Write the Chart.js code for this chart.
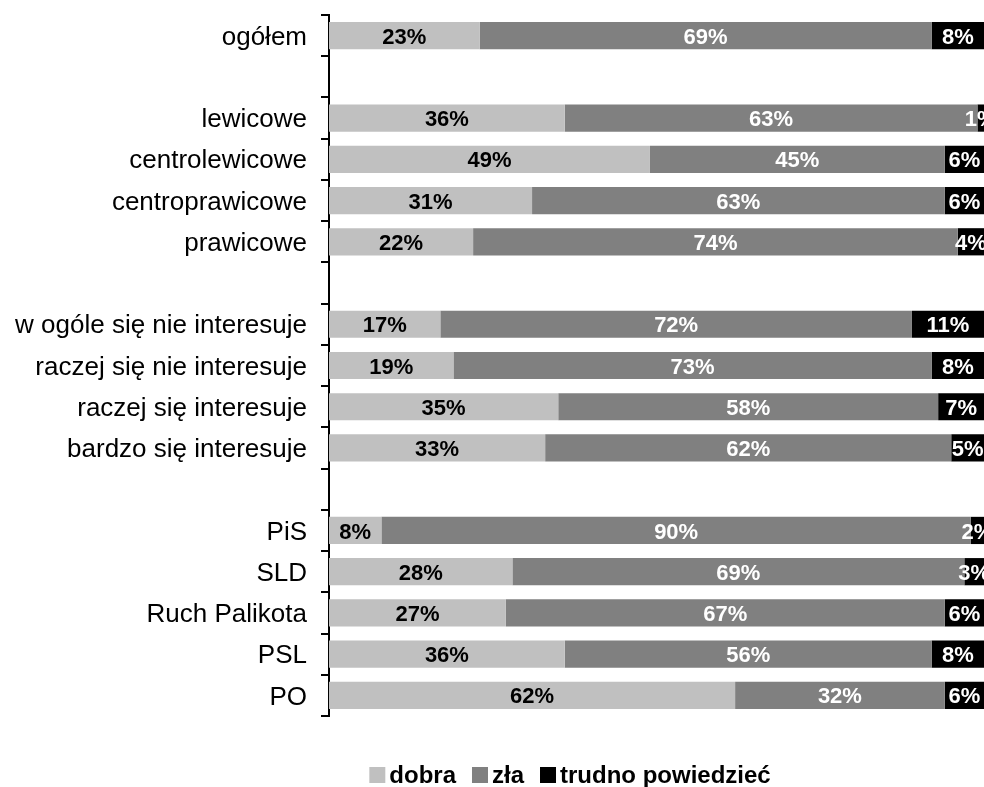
<!DOCTYPE html>
<html><head><meta charset="utf-8">
<script src="https://cdn.jsdelivr.net/npm/chart.js@4"></script>
<style>html,body{margin:0;padding:0;background:#fff}#wrap{width:984px;height:787px}</style>
</head><body><div id="wrap"><canvas id="c" width="984" height="787"></canvas></div>
<script>
const categories = ["ogółem","","lewicowe","centrolewicowe","centroprawicowe","prawicowe","","w ogóle się nie interesuje","raczej się nie interesuje","raczej się interesuje","bardzo się interesuje","","PiS","SLD","Ruch Palikota","PSL","PO"];
const dobra  = [23,null,36,49,31,22,null,17,19,35,33,null,8,28,27,36,62];
const zla    = [69,null,63,45,63,74,null,72,73,58,62,null,90,69,67,56,32];
const trudno = [8,null,1,6,6,4,null,11,8,7,5,null,2,3,6,8,6];
const seriesNames = ["dobra","zła","trudno powiedzieć"];
const seriesColors = ["#C0C0C0","#808080","#000000"];

const FONT = '"Liberation Sans", Arial, sans-serif';

const labelPlugin = {
  id:'barLabels',
  afterDatasetsDraw(chart){
    const ctx = chart.ctx;
    ctx.save();
    ctx.font = 'bold 22px ' + FONT;
    ctx.textAlign = 'center';
    ctx.textBaseline = 'middle';
    chart.data.datasets.forEach((ds, di) => {
      const meta = chart.getDatasetMeta(di);
      meta.data.forEach((el, i) => {
        const v = ds.data[i];
        if (v === null || v === undefined) return;
        const cx = (el.x + el.base) / 2;
        ctx.fillStyle = di === 0 ? '#000' : '#fff';
        ctx.fillText(v + '%', cx, el.y + 2);
      });
    });
    ctx.restore();
  }
};

const legendPlugin = {
  id:'customLegend',
  afterDraw(chart){
    const ctx = chart.ctx;
    ctx.save();
    ctx.font = 'bold 24px ' + FONT;
    ctx.textBaseline = 'middle';
    ctx.textAlign = 'left';
    const box = 16, gapBT = 4, gapItem = 16, y = 775;
    const items = chart.data.datasets.map(d => ({t:d.label, c:d.backgroundColor, w:ctx.measureText(d.label).width}));
    let total = items.reduce((s,it)=>s+box+gapBT+it.w,0) + gapItem*(items.length-1);
    let x = 570 - total/2;
    items.forEach(it => {
      ctx.fillStyle = it.c;
      ctx.fillRect(x, y - box/2, box, box);
      x += box + gapBT;
      ctx.fillStyle = '#000';
      ctx.fillText(it.t, x, y + 1);
      x += it.w + gapItem;
    });
    ctx.restore();
  }
};

new Chart(document.getElementById('c'), {
  type:'bar',
  data:{
    labels:categories,
    datasets:[
      {label:seriesNames[0], data:dobra, backgroundColor:seriesColors[0]},
      {label:seriesNames[1], data:zla, backgroundColor:seriesColors[1]},
      {label:seriesNames[2], data:trudno, backgroundColor:seriesColors[2]}
    ]
  },
  options:{
    indexAxis:'y',
    responsive:false,
    animation:false,
    maintainAspectRatio:false,
    datasets:{bar:{categoryPercentage:0.66, barPercentage:1.0}},
    layout:{padding:{top:15,right:0,bottom:71,left:0}},
    scales:{
      x:{stacked:true, display:false, min:0, max:100},
      y:{stacked:true,
         afterFit(s){ s.width = 329; s.paddingTop = 0; s.paddingBottom = 0; },
         border:{display:true, color:'#000', width:2},
         grid:{display:true, offset:true, drawOnChartArea:false, drawTicks:true, tickLength:8, color:'#000', lineWidth:2},
         ticks:{color:'#000', padding:14, labelOffset:2, font:{family:FONT, size:26}, autoSkip:false}
      }
    },
    plugins:{
      tooltip:{enabled:false},
      legend:{display:false}
    }
  },
  plugins:[labelPlugin, legendPlugin]
});
</script></body></html>
